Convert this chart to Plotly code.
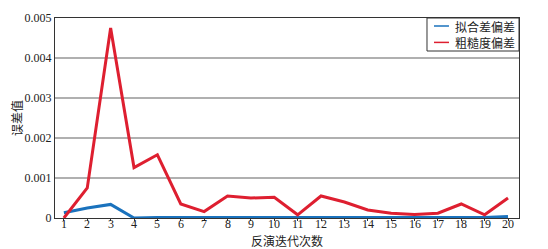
import plotly.graph_objects as go

iterations = list(range(1, 21))
fit_dev = [0.00013, 0.00025, 0.00034, 0.0, 0.00001, 0.00001, 0.0, 0.00001, 0.00001, 0.00001,
           0.0, 0.0, 0.0, 0.0, 0.0, 0.0, 0.0, 0.0, 0.00001, 0.00004]
rough_dev = [0.0, 0.00075, 0.00475, 0.00126, 0.00158, 0.00035, 0.00016, 0.00055, 0.0005, 0.00052,
             0.00008, 0.00055, 0.0004, 0.0002, 0.00012, 0.00009, 0.00012, 0.00035, 0.00008, 0.0005]
series_names = ["拟合差偏差", "粗糙度偏差"]
series_colors = ["#1a72bd", "#de1f30"]
x_labels = [str(i) for i in iterations]
y_ticks = [0, 0.001, 0.002, 0.003, 0.004, 0.005]
y_labels = ["0", "0.001", "0.002", "0.003", "0.004", "0.005"]

serif = "Liberation Serif"
cjk = "Noto Sans CJK SC"
txt = "#222222"

fig = go.Figure()
for vals, name, col in zip([fit_dev, rough_dev], series_names, series_colors):
    fig.add_trace(go.Scatter(x=iterations, y=vals, mode="lines", name=name,
                             line=dict(color=col, width=3), showlegend=False))

# compact legend box (top-right, inside plot)
legend_shapes = [
    dict(type="rect", xref="paper", yref="paper", x0=0.8017, x1=1.0, y0=0.835, y1=1.0,
         line=dict(color="#333", width=1), fillcolor="white", layer="above"),
]
legend_ann = []
for i, (name, col) in enumerate(zip(series_names, series_colors)):
    yy = [0.96, 0.878][i]
    legend_shapes.append(dict(type="line", xref="paper", yref="paper", x0=0.8168, x1=0.8491,
                              y0=yy, y1=yy, line=dict(color=col, width=1.5), layer="above"))
    legend_ann.append(dict(text=name, xref="paper", yref="paper", x=0.857, y=yy,
                           xanchor="left", yanchor="middle", showarrow=False,
                           font=dict(size=12, family=cjk, color=txt)))

# x tick labels placed close under the axis
tick_ann = [dict(text=lbl, xref="x", yref="paper", x=v, y=0, yshift=3,
                 xanchor="center", yanchor="top", showarrow=False,
                 font=dict(size=12, family=serif, color=txt))
            for v, lbl in zip(iterations, x_labels)]

# page body has an 8px default margin, so the figure is sized to the visible area
fig.update_layout(
    width=540, height=241,
    margin=dict(l=47, r=29, t=10, b=31),
    plot_bgcolor="white", paper_bgcolor="white",
    font=dict(family=serif, size=12, color=txt),
    showlegend=False,
    shapes=legend_shapes,
    annotations=legend_ann + tick_ann + [
        dict(text="反演迭代次数", xref="paper", yref="paper", x=0.5, y=0, yshift=-33,
             xanchor="center", yanchor="bottom", showarrow=False,
             font=dict(size=12, family=cjk, color=txt)),
        dict(text="误差值", xref="paper", yref="paper", x=0, y=0.5, xshift=-39,
             xanchor="center", yanchor="middle", textangle=-90, showarrow=False,
             font=dict(size=12, family=cjk, color=txt)),
    ],
)
fig.update_xaxes(range=[0.62, 20.47], tickvals=iterations, showticklabels=False,
                 showgrid=False, showline=True, linecolor="#333", linewidth=1, mirror=True,
                 ticks="outside", ticklen=2, tickcolor="#333", zeroline=False, automargin=False)
fig.update_yaxes(range=[0, 0.005], tickvals=y_ticks, ticktext=y_labels,
                 showgrid=True, gridcolor="#b0b0b0", gridwidth=1.5,
                 showline=True, linecolor="#333", linewidth=1, mirror=True, automargin=False,
                 ticks="", zeroline=False, tickfont=dict(size=12, family=serif, color=txt))

fig.write_html("out.html")
